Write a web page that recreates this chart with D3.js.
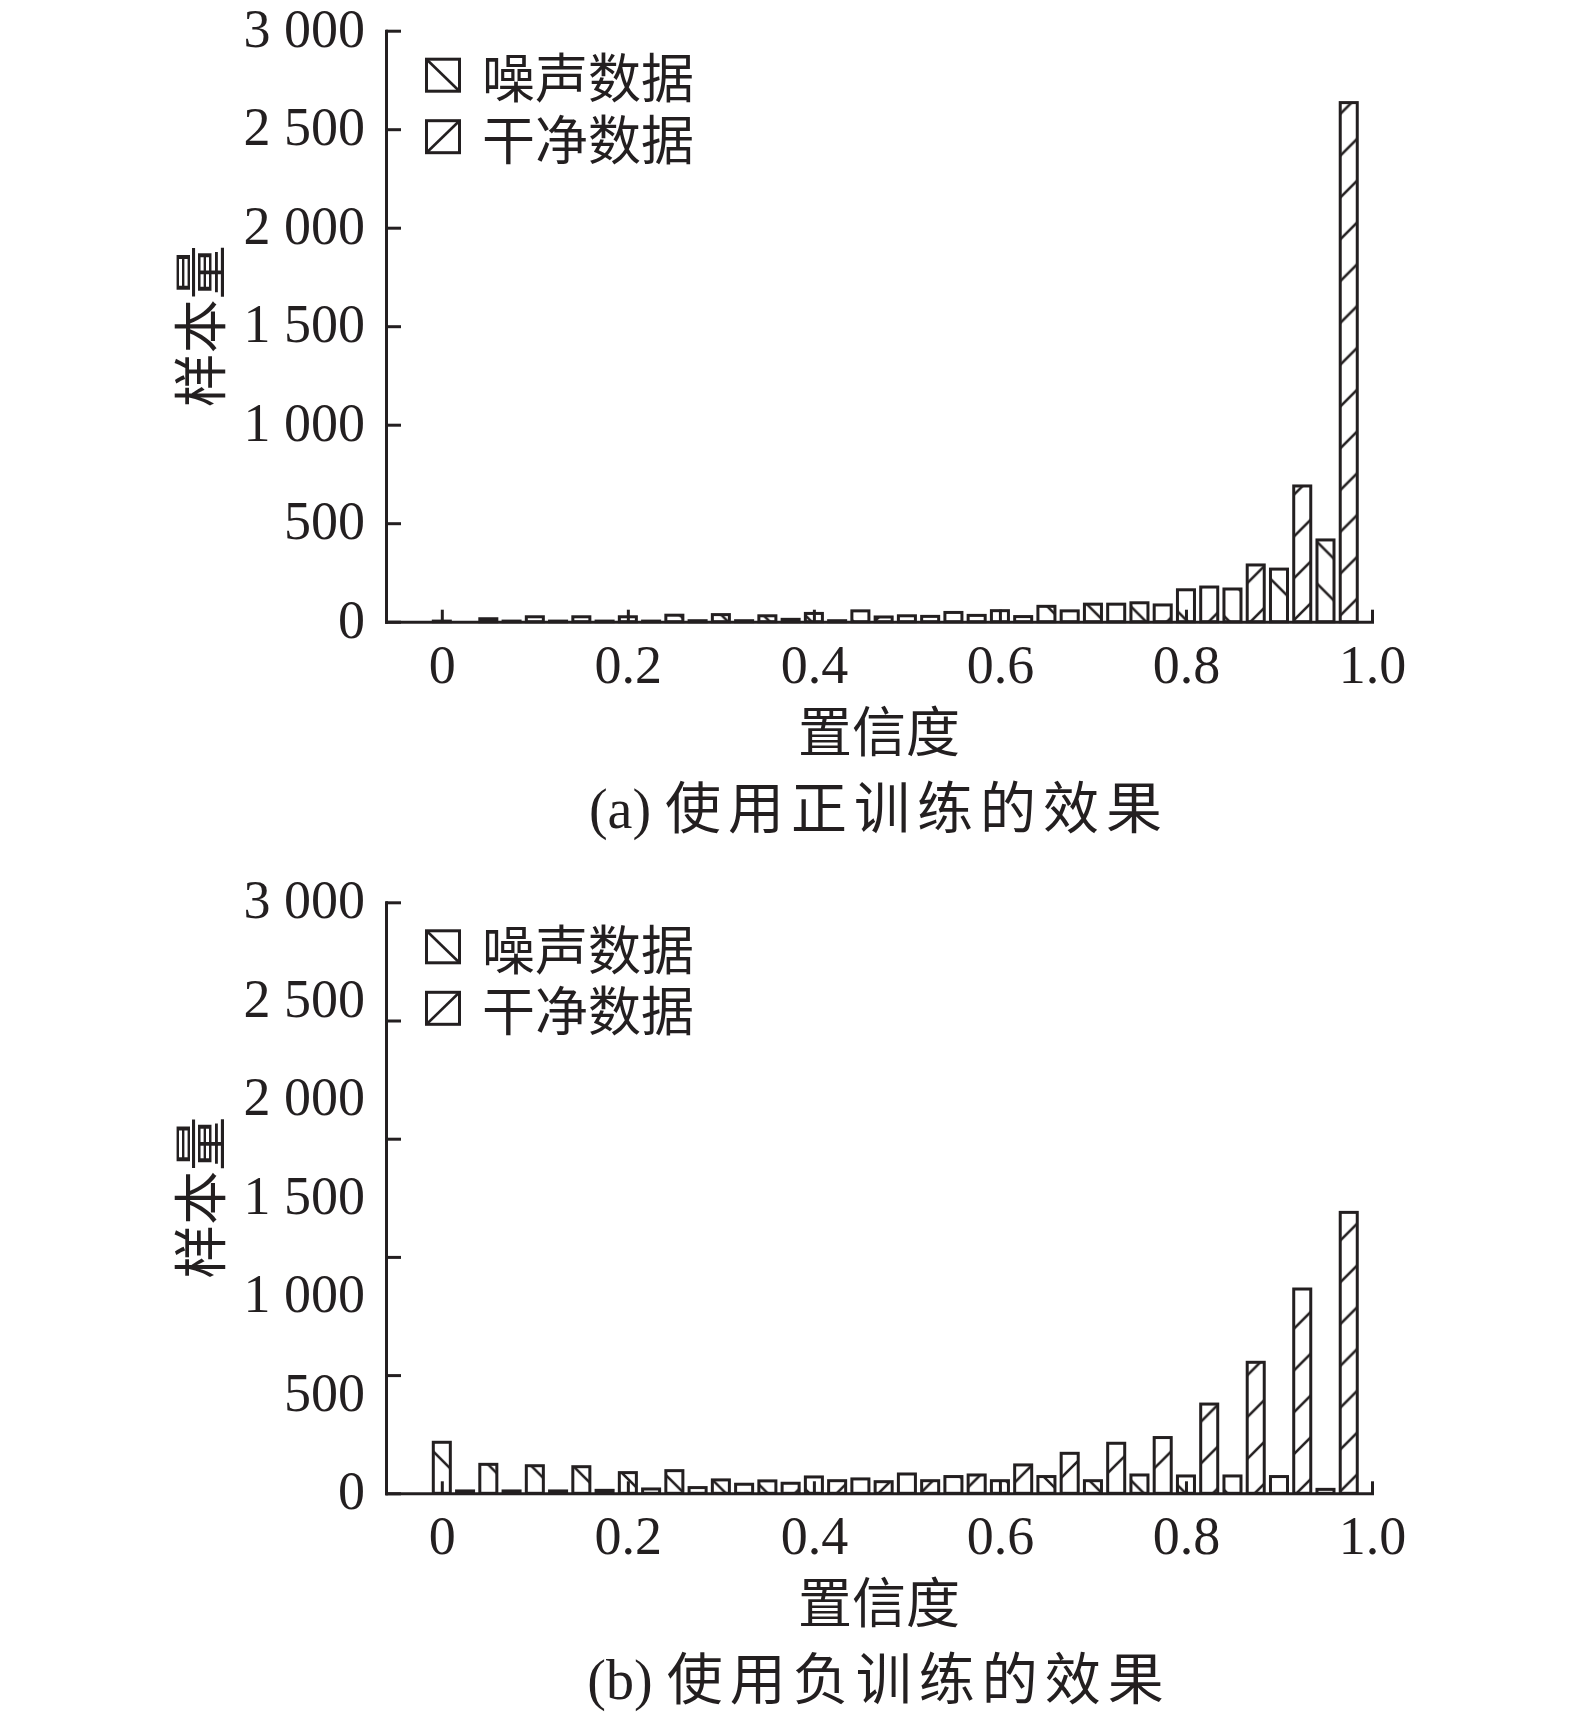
<!DOCTYPE html>
<html><head><meta charset="utf-8">
<script src="https://cdn.jsdelivr.net/npm/d3@7"></script>
<style>body{margin:0;background:#fff}</style>
</head><body>
<script>
// ---------- data ----------
const binStarts = [0, 0.05, 0.1, 0.15, 0.2, 0.25, 0.3, 0.35, 0.4, 0.45, 0.5, 0.55, 0.6, 0.65, 0.7, 0.75, 0.8, 0.85, 0.9, 0.95];
const seriesNames = ["噪声数据", "干净数据"];
// (a) positive training
const posNoise = [3, 15, 25, 25, 25, 33, 36, 30, 42, 55, 30, 47, 56, 78, 89, 96, 162, 166, 267, 415];
const posClean = [0, 3, 3, 3, 3, 5, 5, 12, 5, 24, 27, 32, 26, 55, 89, 85, 176, 288, 689, 2635];
// (b) negative training
const negNoise = [259, 147, 140, 135, 105, 115, 68, 63, 83, 73, 98, 85, 64, 85, 64, 93, 88, 88, 85, 20];
const negClean = [12, 12, 12, 15, 22, 29, 46, 51, 64, 59, 64, 93, 144, 203, 254, 283, 453, 665, 1037, 1426];
const xTickValues = [0, 0.2, 0.4, 0.6, 0.8, 1.0];
const yLabelValues = [0, 500, 1000, 1500, 2000, 2500, 3000];
const posTickMarks = [0, 500, 1000, 1500, 2000, 2500, 3000];
const negTickMarks = [0, 600, 1200, 1800, 2400, 3000];
const xTitle = "置信度";
const yTitle = "样本量";
const captionLabels = ["(a) ", "(b) "];
const captionTexts = ["使用正训练的效果", "使用负训练的效果"];

// ---------- drawing ----------
const INK = "#231f20";
const SERIF = "'Liberation Serif', 'Times New Roman', serif";
const CJK = "'Noto Sans CJK SC', 'Noto Sans', sans-serif";
const W = 1575, H = 1718;
const svg = d3.select("body").append("svg").attr("width", W).attr("height", H);
const defs = svg.append("defs");

const x = d3.scaleLinear().domain([-0.06, 1]).range([386, 1372]);
const half = 0.025, barW = 0.0183;
const fmt = d3.formatLocale({decimal: ".", thousands: " ", grouping: [3], currency: ["", ""]}).format(",");
const P = 41.8;

const panels = [
  {noise: posNoise, clean: posClean, base: 621.7, marks: posTickMarks, ph: [19, 33]},
  {noise: negNoise, clean: negClean, base: 1493.3, marks: negTickMarks, ph: [15, 31]}
];

function makePattern(id, dir, phase) {
  const pt = defs.append("pattern").attr("id", id).attr("patternUnits", "userSpaceOnUse")
    .attr("width", P).attr("height", P);
  let d;
  if (dir === "/") {
    pt.attr("x", phase).attr("y", 0);
    d = `M0,${P}L${P},0M${-P/2},${P/2}L${P/2},${-P/2}M${P/2},${1.5*P}L${1.5*P},${P/2}`;
  } else {
    pt.attr("x", 0).attr("y", phase);
    d = `M0,0L${P},${P}M${-P/2},${P/2}L${P/2},${1.5*P}M${P/2},${-P/2}L${1.5*P},${P/2}`;
  }
  pt.append("path").attr("d", d).attr("stroke", INK).attr("stroke-width", 2.6).attr("fill", "none");
}

panels.forEach((p, k) => {
  const top = p.base - 591;
  const y = d3.scaleLinear().domain([0, 3000]).range([p.base, top]);
  const ids = [`noise${k}`, `clean${k}`];
  makePattern(ids[0], "\\", p.ph[0]);
  makePattern(ids[1], "/", p.ph[1]);
  const g = svg.append("g");

  const data = binStarts.flatMap((b, j) => [
    {c: b, v: p.noise[j], s: 0},
    {c: b + half, v: p.clean[j], s: 1}
  ]);
  g.selectAll("rect.bar").data(data).join("rect").attr("class", "bar")
    .attr("x", d => x(d.c - barW / 2))
    .attr("width", x(barW) - x(0))
    .attr("y", d => y(d.v))
    .attr("height", d => y(0) - y(d.v))
    .attr("fill", d => `url(#${ids[d.s]})`)
    .attr("stroke", INK).attr("stroke-width", 3);

  // x axis
  const xa = d3.axisBottom(x).tickValues(xTickValues).tickSizeInner(-12).tickSizeOuter(0)
    .tickFormat(d => d === 0 ? "0" : d3.format(".1f")(d));
  const gx = g.append("g").attr("transform", `translate(0,${p.base})`).call(xa);
  gx.select(".domain").attr("stroke", INK).attr("stroke-width", 3).attr("stroke-linecap", "square");
  gx.selectAll(".tick line").attr("stroke", INK).attr("stroke-width", 3);
  gx.selectAll(".tick text").attr("y", 61).attr("dy", null)
    .attr("font-family", SERIF).attr("font-size", 54).attr("fill", INK);

  // y axis tick marks
  const ya = d3.axisLeft(y).tickValues(p.marks).tickSizeInner(-15).tickSizeOuter(0).tickFormat("");
  const gy = g.append("g").attr("transform", "translate(386,0)").call(ya);
  gy.select(".domain").attr("stroke", INK).attr("stroke-width", 3).attr("stroke-linecap", "square");
  gy.selectAll(".tick line").attr("stroke", INK).attr("stroke-width", 3);
  // y axis labels
  const yl = d3.axisLeft(y).tickValues(yLabelValues).tickSize(0).tickPadding(21).tickFormat(fmt);
  const gyl = g.append("g").attr("transform", "translate(386,0)").call(yl);
  gyl.select(".domain").remove();
  gyl.selectAll(".tick text").attr("font-family", SERIF).attr("font-size", 54).attr("fill", INK).attr("dy", "0.29em");

  // axis titles
  g.append("text").attr("x", 879).attr("y", p.base + 130)
    .attr("text-anchor", "middle").attr("font-family", CJK).attr("font-size", 54).attr("fill", INK)
    .text(xTitle);
  g.append("text").attr("transform", `translate(197,${(p.base + top) / 2}) rotate(-90)`)
    .attr("text-anchor", "middle").attr("dominant-baseline", "central")
    .attr("font-family", CJK).attr("font-size", 54).attr("fill", INK)
    .text(yTitle);

  // legend
  seriesNames.forEach((name, s) => {
    const cy = top + 44.5 + s * 61.5;
    const lg = g.append("g");
    lg.append("rect").attr("x", 426.5).attr("y", cy - 16).attr("width", 33).attr("height", 32)
      .attr("fill", "#fff").attr("stroke", INK).attr("stroke-width", 3);
    lg.append("line")
      .attr("x1", 426.5).attr("y1", s === 0 ? cy - 16 : cy + 16)
      .attr("x2", 459.5).attr("y2", s === 0 ? cy + 16 : cy - 16)
      .attr("stroke", INK).attr("stroke-width", 2.6);
    lg.append("text").attr("x", 482).attr("y", cy).attr("dominant-baseline", "central")
      .attr("font-family", CJK).attr("font-size", 53).attr("fill", INK).text(name);
  });

  // caption
  const cap = g.append("text").attr("x", 879).attr("y", p.base + 206)
    .attr("text-anchor", "middle").attr("fill", INK);
  cap.append("tspan").attr("font-family", SERIF).attr("font-size", 56).text(captionLabels[k]);
  cap.append("tspan").attr("font-family", CJK).attr("font-size", 56).attr("letter-spacing", 7).text(captionTexts[k]);
});
</script>
</body></html>
